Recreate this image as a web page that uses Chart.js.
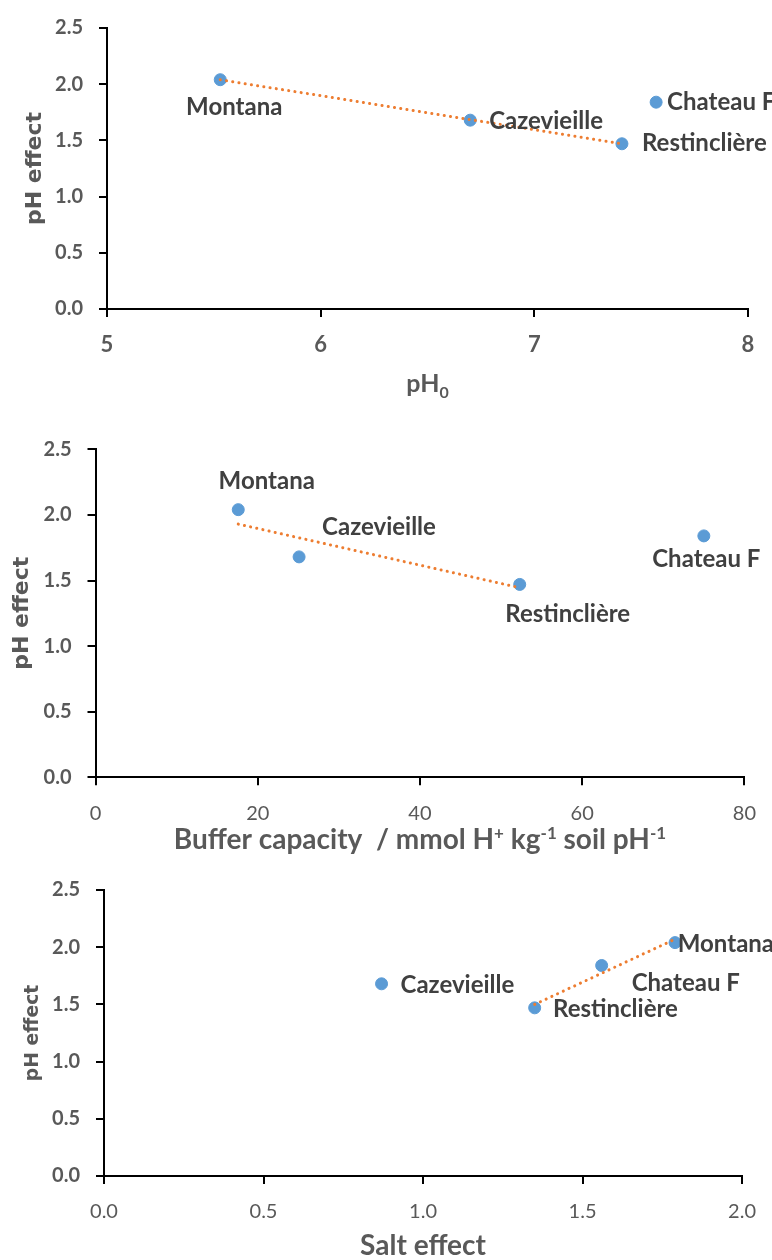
<!DOCTYPE html>
<html><head><meta charset="utf-8">
<script src="https://cdn.jsdelivr.net/npm/chart.js@4.4.1/dist/chart.umd.min.js"></script>
<style>
html,body{margin:0;padding:0;background:#fff}
body{width:772px;height:1260px;overflow:hidden;position:relative}
canvas{position:absolute;left:0}
</style></head>
<body>
<canvas id="c1" width="772" height="410" style="top:0px"></canvas>
<canvas id="c2" width="772" height="450" style="top:410px"></canvas>
<canvas id="c3" width="772" height="400" style="top:860px"></canvas>
<script>
// ---- data ----
const sites = ['Montana', 'Cazevieille', 'Restinclière', 'Chateau F'];
const pHEffect = [2.04, 1.68, 1.47, 1.84];
const pH0 = [5.53, 6.70, 7.41, 7.57];
const bufferCapacity = [17.6, 25.1, 52.3, 75.0];
const saltEffect = [1.79, 0.87, 1.35, 1.56];

// trendlines (end points)
const trendPH0X = [5.53, 7.41];
const trendPH0Y = [2.04, 1.47];
const trendBufferX = [17.6, 52.3];
const trendBufferY = [1.93, 1.445];
const trendSaltX = [1.35, 1.79];
const trendSaltY = [1.50, 2.07];

// axis ticks
const yTicks = [0, 0.5, 1.0, 1.5, 2.0, 2.5];
const xTicksPH0 = [5, 6, 7, 8];
const xTicksBuffer = [0, 20, 40, 60, 80];
const xTicksSalt = [0, 0.5, 1.0, 1.5, 2.0];

const yTitle = 'pH effect';
const xTitlePH0 = [{t: 'pH'}, {t: '0', sub: true}];
const xTitleBuffer = [{t: 'Buffer capacity  / mmol H'}, {t: '+', sup: true}, {t: ' kg'}, {t: '-1', sup: true}, {t: ' soil pH'}, {t: '-1', sup: true}];
const xTitleSalt = [{t: 'Salt effect'}];

Chart.defaults.font.family = 'Lato, "Liberation Sans", sans-serif';

const labelPlugin = {
  id: 'pointLabels',
  afterDatasetsDraw(chart) {
    const o = chart.options.plugins.pointLabels;
    if (!o) return;
    const ctx = chart.ctx;
    const meta = chart.getDatasetMeta(1);
    ctx.save();
    ctx.font = o.font;
    ctx.fillStyle = o.color;
    ctx.textBaseline = 'alphabetic';
    o.labels.forEach((txt, i) => {
      const el = meta.data[i];
      const off = o.offsets[i];
      ctx.textAlign = off[2] || 'left';
      ctx.fillText(txt, el.x + off[0], el.y + off[1]);
    });
    ctx.restore();
  }
};

const richTitlePlugin = {
  id: 'richTitle',
  afterDraw(chart) {
    const o = chart.options.plugins.richTitle;
    if (!o) return;
    const ctx = chart.ctx;
    const a = chart.chartArea;
    ctx.save();
    ctx.fillStyle = o.color;
    ctx.textBaseline = 'alphabetic';
    ctx.textAlign = 'left';
    const big = 'bold ' + o.size + 'px ' + o.family;
    const small = 'bold ' + Math.round(o.size * 0.62) + 'px ' + o.family;
    let total = 0;
    o.segments.forEach(s => { ctx.font = (s.sub || s.sup) ? small : big; total += ctx.measureText(s.t).width; });
    let x = (a.left + a.right) / 2 - total / 2;
    const base = a.bottom + o.offset;
    o.segments.forEach(s => {
      ctx.font = (s.sub || s.sup) ? small : big;
      let y = base;
      if (s.sub) y += o.size * 0.22;
      if (s.sup) y -= o.size * 0.38;
      ctx.fillText(s.t, x, y);
      x += ctx.measureText(s.t).width;
    });
    ctx.restore();
  }
};

function makeChart(id, xs, ys, tx, ty, xTickVals, cfg) {
  const pts = xs.map((x, i) => ({x: x, y: ys[i]}));
  const trend = tx.map((x, i) => ({x: x, y: ty[i]}));
  return new Chart(document.getElementById(id), {
    type: 'scatter',
    data: {
      datasets: [
        { data: trend, showLine: true, borderColor: '#ED7D31', borderWidth: 3,
          borderDash: [0.1, 6.2], borderCapStyle: 'round', pointRadius: 0, fill: false },
        { data: pts, backgroundColor: '#5B9BD5', borderColor: '#5B9BD5', pointRadius: 6, pointHoverRadius: 6, showLine: false }
      ]
    },
    options: {
      responsive: false, animation: false, devicePixelRatio: 1,
      layout: { padding: cfg.padding },
      plugins: {
        legend: { display: false }, tooltip: { enabled: false },
        pointLabels: { labels: sites, offsets: cfg.offsets, font: 'bold 24px Lato', color: '#404040' },
        richTitle: { segments: cfg.xTitle, size: cfg.xTitleSize, family: 'Lato', color: '#595959', offset: cfg.xTitleOffset }
      },
      scales: {
        x: {
          type: 'linear', min: xTickVals[0], max: xTickVals[xTickVals.length - 1],
          afterBuildTicks: s => { s.ticks = xTickVals.map(v => ({value: v})); },
          afterFit: s => { s.height = cfg.xAxisHeight; },
          ticks: { color: '#595959', padding: cfg.xTickPad, maxRotation: 0, autoSkip: false,
            font: { size: cfg.xTickSize, weight: cfg.xTickBold ? 'bold' : 'normal' },
            callback: v => v.toFixed(cfg.xDecimals) },
          grid: { drawOnChartArea: false, drawTicks: true, tickLength: 8, color: '#000', lineWidth: 2 },
          border: { display: true, color: '#000', width: 2 },
          title: { display: false }
        },
        y: {
          type: 'linear', min: 0, max: 2.5,
          afterBuildTicks: s => { s.ticks = yTicks.map(v => ({value: v})); },
          afterFit: s => { s.width = cfg.yAxisWidth; },
          ticks: { color: '#595959', padding: 16, font: { size: 20, weight: 'bold' },
            callback: v => v.toFixed(1) },
          grid: { drawOnChartArea: false, drawTicks: true, tickLength: 8, color: '#000', lineWidth: 2 },
          border: { display: true, color: '#000', width: 2 },
          title: { display: true, text: yTitle, color: '#595959',
            font: { family: '"DejaVu Sans"', size: cfg.yTitleSize, weight: 'bold' },
            padding: { top: cfg.yTitlePad, bottom: 0 } }
        }
      }
    },
    plugins: [labelPlugin, richTitlePlugin]
  });
}

makeChart('c1', pH0, pHEffect, trendPH0X, trendPH0Y, xTicksPH0, {
  padding: { left: 0, top: 24, right: 24, bottom: 0 },
  yAxisWidth: 107, xAxisHeight: 101, xTickPad: 15, xTickBold: true, xTickSize: 22, xDecimals: 0,
  yTitleSize: 22, yTitlePad: 22,
  xTitle: xTitlePH0, xTitleSize: 25, xTitleOffset: 83,
  offsets: [[14, 35, 'center'], [19, 9, 'left'], [20, 7, 'left'], [11, 8, 'left']]
});

makeChart('c2', bufferCapacity, pHEffect, trendBufferX, trendBufferY, xTicksBuffer, {
  padding: { left: 0, top: 39.3, right: 25.5, bottom: 0 },
  yAxisWidth: 95.5, xAxisHeight: 82.7, xTickPad: 16, xTickBold: false, xTickSize: 20, xDecimals: 0,
  yTitleSize: 22, yTitlePad: 9,
  xTitle: xTitleBuffer, xTitleSize: 28, xTitleOffset: 72,
  offsets: [[28.5, -20.7, 'center'], [23, -21.7, 'left'], [48, 37.7, 'center'], [2.5, 31.4, 'center']]
});

makeChart('c3', saltEffect, pHEffect, trendSaltX, trendSaltY, xTicksSalt, {
  padding: { left: 0, top: 30, right: 29.4, bottom: 0 },
  yAxisWidth: 104, xAxisHeight: 84, xTickPad: 16, xTickBold: false, xTickSize: 20, xDecimals: 1,
  yTitleSize: 18.8, yTitlePad: 22,
  xTitle: xTitleSalt, xTitleSize: 28, xTitleOffset: 79,
  offsets: [[2.7, 9, 'left'], [19, 9.3, 'left'], [18.4, 9, 'left'], [30, 25.3, 'left']]
});
</script>
</body></html>
